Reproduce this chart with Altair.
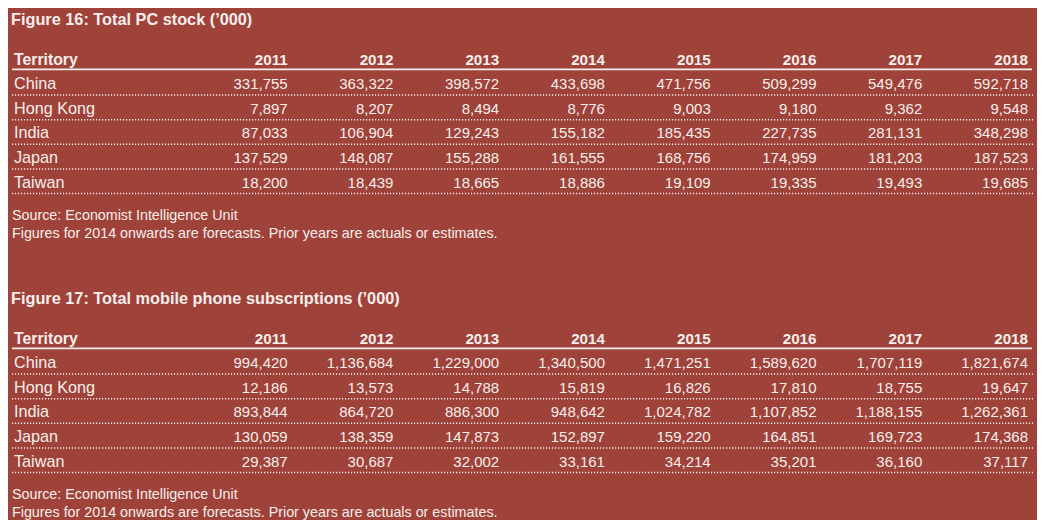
import altair as alt
import pandas as pd

# ---------------- data ----------------
territories = ["China", "Hong Kong", "India", "Japan", "Taiwan"]
years = ["2011", "2012", "2013", "2014", "2015", "2016", "2017", "2018"]
header_label = "Territory"

title_pc = "Figure 16: Total PC stock (\u2019000)"
title_mobile = "Figure 17: Total mobile phone subscriptions (\u2019000)"
note_lines = [
    "Source: Economist Intelligence Unit",
    "Figures for 2014 onwards are forecasts. Prior years are actuals or estimates.",
]

pc_china = [331755, 363322, 398572, 433698, 471756, 509299, 549476, 592718]
pc_hongkong = [7897, 8207, 8494, 8776, 9003, 9180, 9362, 9548]
pc_india = [87033, 106904, 129243, 155182, 185435, 227735, 281131, 348298]
pc_japan = [137529, 148087, 155288, 161555, 168756, 174959, 181203, 187523]
pc_taiwan = [18200, 18439, 18665, 18886, 19109, 19335, 19493, 19685]

mob_china = [994420, 1136684, 1229000, 1340500, 1471251, 1589620, 1707119, 1821674]
mob_hongkong = [12186, 13573, 14788, 15819, 16826, 17810, 18755, 19647]
mob_india = [893844, 864720, 886300, 948642, 1024782, 1107852, 1188155, 1262361]
mob_japan = [130059, 138359, 147873, 152897, 159220, 164851, 169723, 174368]
mob_taiwan = [29387, 30687, 32002, 33161, 34214, 35201, 36160, 37117]

# ---------------- style ----------------
BG = "#9F4239"
FG = "#F6EEEC"
FONT = "Liberation Sans"
W = 1029
H = 232

xscale = alt.Scale(domain=[1, 8], range=[279.7, 1020], nice=False, zero=False)
yscale = alt.Scale(domain=[0, 5], range=[56.5, 179.5], nice=False, zero=False)


def table_panel(title, series):
    cells = pd.DataFrame(
        [
            {"territory": t, "row": i + 1, "col": j + 1, "value": series[i][j]}
            for i, t in enumerate(territories)
            for j in range(len(years))
        ]
    )
    names = pd.DataFrame({"territory": territories, "row": list(range(1, len(territories) + 1))})
    heads = pd.DataFrame({"year": years, "col": list(range(1, len(years) + 1)), "row": 0})
    head_name = pd.DataFrame({"label": [header_label], "row": [0]})
    title_df = pd.DataFrame({"t": [title]})
    note_df = pd.DataFrame({"t": ["\n".join(note_lines)]})

    base_text = dict(font=FONT, color=FG, baseline="alphabetic")

    title_layer = alt.Chart(title_df).mark_text(
        align="left", fontSize=16.3, fontWeight="bold", **base_text
    ).encode(text="t:N", x=alt.value(3), y=alt.value(16.5))

    head_name_layer = alt.Chart(head_name).mark_text(
        align="left", fontSize=15.8, fontWeight="bold", **base_text
    ).encode(text="label:N", x=alt.value(6), y=alt.Y("row:Q", scale=yscale, axis=None))

    head_year_layer = alt.Chart(heads).mark_text(
        align="right", fontSize=15.2, fontWeight="bold", **base_text
    ).encode(
        text="year:N",
        x=alt.X("col:Q", scale=xscale, axis=None),
        y=alt.Y("row:Q", scale=yscale, axis=None),
    )

    header_rule = alt.Chart(head_name).transform_calculate(ly="datum.row + 0.2").mark_rule(
        color=FG, strokeWidth=1.6
    ).encode(x=alt.value(4), x2=alt.value(1024), y=alt.Y("ly:Q", scale=yscale, axis=None))

    name_layer = alt.Chart(names).mark_text(
        align="left", fontSize=16.2, **base_text
    ).encode(text="territory:N", x=alt.value(6), y=alt.Y("row:Q", scale=yscale, axis=None))

    value_layer = alt.Chart(cells).mark_text(
        align="right", fontSize=15, **base_text
    ).encode(
        text=alt.Text("value:Q", format=","),
        x=alt.X("col:Q", scale=xscale, axis=None),
        y=alt.Y("row:Q", scale=yscale, axis=None),
    )

    dotted = alt.Chart(names).transform_calculate(ly="datum.row + 0.244").mark_rule(
        color=FG, strokeWidth=1.5, strokeDash=[1.2, 1.8]
    ).encode(x=alt.value(4), x2=alt.value(1025), y=alt.Y("ly:Q", scale=yscale, axis=None))

    note_layer = alt.Chart(note_df).mark_text(
        align="left", fontSize=14.3, lineBreak="\n", lineHeight=18, **base_text
    ).encode(text="t:N", x=alt.value(4), y=alt.value(211.5))

    return alt.layer(
        dotted, header_rule, title_layer, head_name_layer, head_year_layer,
        name_layer, value_layer, note_layer,
    ).properties(width=W, height=H)


panel1 = table_panel(title_pc, [pc_china, pc_hongkong, pc_india, pc_japan, pc_taiwan])
panel2 = table_panel(title_mobile, [mob_china, mob_hongkong, mob_india, mob_japan, mob_taiwan])

chart = alt.vconcat(panel1, panel2, spacing=46).properties(
    background=BG, padding=0
).configure_view(stroke=None).configure_concat(spacing=46)

chart.save("out.html", embed_options={"renderer": "svg", "actions": False})
